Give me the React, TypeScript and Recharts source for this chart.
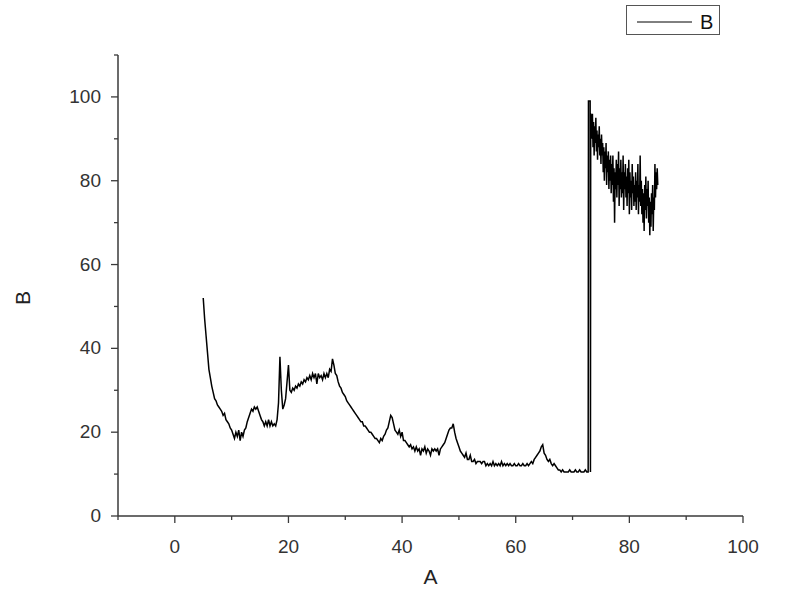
import React from "react";
import { LineChart, Line, XAxis, YAxis, Legend, Label } from "recharts";

// Segment 1: A from 5.00 to 72.75, step 0.25
const seg1Start = 5.0;
const seg1Step = 0.25;
const seg1B = [
  52, 47, 43, 39,
  35, 33, 31, 29.5,
  28, 27.5, 26.5, 26,
  25.5, 25, 24, 24.5,
  23, 22.5, 22, 21,
  20.5, 19.5, 18.5, 20,
  19, 20.5, 18, 20,
  19, 20.5, 21, 22.5,
  23.5, 24.5, 25.5, 25,
  26, 25.5, 26, 25,
  24, 23, 22.5, 21.5,
  22.5, 21.5, 23, 21.5,
  22.5, 21.5, 22, 21.5,
  23, 27, 38, 30,
  25.5, 26.5, 28, 32,
  36, 30, 29.5, 30.5,
  30, 31, 30.5, 31.5,
  31, 32, 31.5, 32.5,
  32, 33, 32.5, 33.5,
  32.5, 34, 33, 34,
  31.5, 34, 33, 33.5,
  32.5, 34, 33, 34,
  33, 35, 34.5, 37.5,
  36, 34, 33.5, 32,
  31, 30.5, 29.5, 29,
  28.5, 27.5, 27, 26.5,
  26, 25.5, 25, 24.5,
  24, 23.5, 23, 22.5,
  22.5, 21.5, 21.5, 21,
  20.5, 20, 20, 19.5,
  19, 18.5, 18.5, 18,
  17.5, 18.5, 18, 19,
  19.5, 20.5, 21, 22.5,
  24, 23.5, 22, 20.5,
  20, 19.5, 20.5, 19,
  20, 18, 18, 17.5,
  17, 16.5, 17, 16,
  16.5, 15.5, 16.5, 15.5,
  16, 14.5, 16, 15.5,
  16.5, 15, 16, 15.5,
  14.5, 16, 15.5, 16,
  15.5, 16, 14.5, 16,
  16.5, 17, 17.5, 18.5,
  19.5, 20.5, 21, 21,
  22, 20, 18.5, 17.5,
  16.5, 15.5, 15, 14.5,
  14, 15, 13.5, 13.5,
  14.5, 13, 13, 13.5,
  12.5, 13, 13, 13,
  12.5, 13, 13, 12,
  12.5, 12, 12.5, 12,
  13, 12, 12.5, 12,
  12.5, 12, 13, 12,
  12.5, 12, 12.5, 12,
  12.5, 12, 12, 12.5,
  12, 12, 12.5, 12,
  12, 12.5, 12, 12,
  12.5, 12, 12.5, 13,
  12.5, 13.5, 14, 14.5,
  15, 15.5, 16.5, 17,
  15, 14.5, 13.5, 13,
  13.5, 12.5, 12, 12.5,
  12, 11.5, 11, 11,
  10.5, 11, 10.5, 10.5,
  10.5, 10.5, 11, 10.5,
  10.5, 10.5, 11, 10.5,
  10.5, 11, 10.5, 10.5,
  10.5, 11, 10.5, 10.5,
];

// The jump near A = 73
const jumpA = [72.8, 73.1, 73.15, 73.2];
const jumpB = [99, 99, 10.5, 96];

// Segment 2: A from 73.3 to 85.0, step 0.1
const seg2Start = 73.3;
const seg2Step = 0.1;
const seg2B = [
  95, 90, 96, 88, 94, 86, 93,
  89, 95, 87, 92, 85, 91, 88, 93, 86, 90,
  84, 91, 86, 89, 82, 88, 80, 87, 83, 89,
  79, 86, 82, 87, 78, 85, 80, 86, 77, 84,
  79, 86, 75, 83, 70, 82, 78, 85, 76, 84,
  79, 87, 74, 83, 78, 85, 76, 82, 77, 86,
  73, 82, 78, 84, 76, 81, 74, 83, 77, 85,
  72, 82, 76, 80, 73, 84, 77, 81, 74, 79,
  75, 82, 73, 80, 76, 84, 72, 79, 75, 86,
  74, 80, 72, 78, 70, 77, 68, 79, 73, 81,
  71, 78, 74, 80, 70, 76, 67, 75, 69, 77,
  72, 79, 68, 76, 73, 84, 76, 82, 78, 83,
  79,
];

const xTicks = [-10, 0, 10, 20, 30, 40, 50, 60, 70, 80, 90, 100];
const yTicks = [0, 10, 20, 30, 40, 50, 60, 70, 80, 90, 100, 110];
const seriesName = "B";
const xName = "A";

const data: { A: number; B: number }[] = [
  ...seg1B.map((b, i) => ({ A: +(seg1Start + i * seg1Step).toFixed(2), B: b })),
  ...jumpA.map((a, i) => ({ A: a, B: jumpB[i] })),
  ...seg2B.map((b, i) => ({ A: +(seg2Start + i * seg2Step).toFixed(2), B: b })),
];

const FONT = "'Liberation Sans', Arial, sans-serif";
const AXIS = "#3a3a3a";

const XTick = (props: any) => {
  const { x, y, payload } = props;
  const major = payload.value % 20 === 0;
  return (
    <g>
      <line x1={x} y1={y} x2={x} y2={y + (major ? 7 : 4)} stroke={AXIS} strokeWidth={1.3} />
      {major && (
        <text x={x} y={y + 37} textAnchor="middle" fontSize={19} fontFamily={FONT} fill="#333">
          {payload.value}
        </text>
      )}
    </g>
  );
};

const YTick = (props: any) => {
  const { x, y, payload } = props;
  const major = payload.value % 20 === 0;
  return (
    <g>
      <line x1={x} y1={y} x2={x - (major ? 7 : 4)} y2={y} stroke={AXIS} strokeWidth={1.3} />
      {major && (
        <text x={x - 17} y={y + 6} textAnchor="end" fontSize={19} fontFamily={FONT} fill="#333">
          {payload.value}
        </text>
      )}
    </g>
  );
};

const LegendBox = () => (
  <div
    style={{
      width: 92,
      height: 28,
      border: "1px solid #555",
      display: "flex",
      alignItems: "center",
      boxSizing: "content-box",
      background: "#fff",
    }}
  >
    <svg width={92} height={28}>
      <line x1={10} y1={16} x2={65} y2={16} stroke="#000" strokeWidth={1} />
      <text x={73} y={23} fontSize={20} fontFamily={FONT} fill="#111">
        {seriesName}
      </text>
    </svg>
  </div>
);

export default function App() {
  return (
    <div style={{ position: "absolute", left: 0, top: 0, background: "#fff" }}>
      <LineChart
        width={800}
        height={593}
        data={data}
        margin={{ top: 55, right: 57, bottom: 2, left: 58 }}
      >
        <XAxis
          dataKey="A"
          type="number"
          domain={[-10, 100]}
          ticks={xTicks}
          interval={0}
          height={75}
          tickSize={0}
          tickMargin={0}
          tickLine={false}
          tick={<XTick />}
          axisLine={{ stroke: AXIS, strokeWidth: 1.5 }}
          allowDataOverflow
        >
          <Label
            value={xName}
            position="insideBottom"
            offset={7}
            style={{ fontSize: 21, fontFamily: FONT, fill: "#222" }}
          />
        </XAxis>
        <YAxis
          type="number"
          domain={[0, 110]}
          ticks={yTicks}
          interval={0}
          width={60}
          tickSize={0}
          tickMargin={0}
          tickLine={false}
          tick={<YTick />}
          axisLine={{ stroke: AXIS, strokeWidth: 1.5 }}
          allowDataOverflow
        >
          <Label
            content={() => (
              <text
                x={30}
                y={298}
                transform="rotate(-90 30 298)"
                textAnchor="middle"
                fontSize={21}
                fontFamily={FONT}
                fill="#222"
              >
                {seriesName}
              </text>
            )}
          />
        </YAxis>
        <Legend
          layout="horizontal"
          verticalAlign="middle"
          align="center"
          content={<LegendBox />}
          wrapperStyle={{ position: "absolute", left: 626, top: 5, width: 94, height: 30 }}
        />
        <Line
          type="linear"
          dataKey="B"
          name={seriesName}
          stroke="#000"
          strokeWidth={1.5}
          dot={false}
          isAnimationActive={false}
        />
      </LineChart>
    </div>
  );
}
